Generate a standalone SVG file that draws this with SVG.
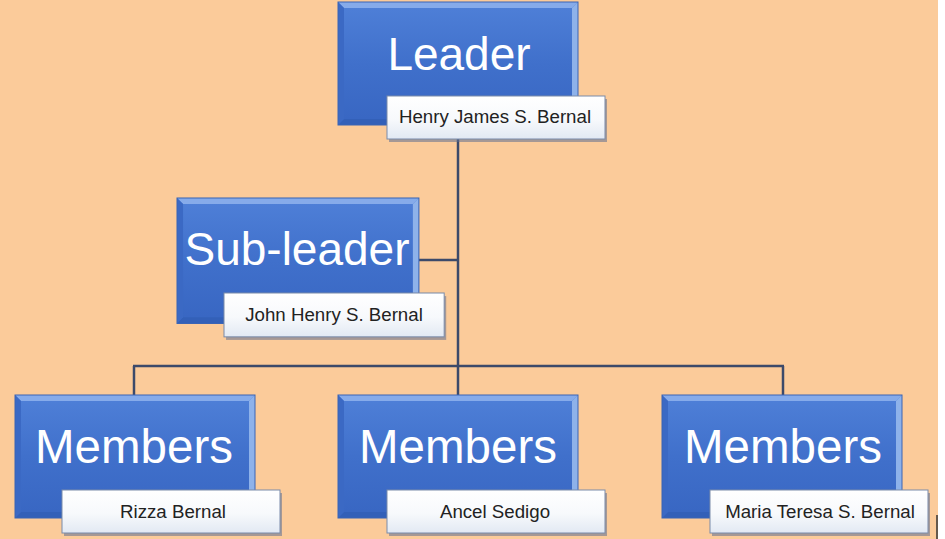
<svg xmlns="http://www.w3.org/2000/svg" xmlns:xlink="http://www.w3.org/1999/xlink" width="945" height="539" viewBox="0 0 945 539">
  <defs>
    <linearGradient id="boxGrad" x1="0" y1="0" x2="0" y2="1">
      <stop offset="0" stop-color="#4F80D8"/>
      <stop offset="0.5" stop-color="#4070CB"/>
      <stop offset="1" stop-color="#3866C2"/>
    </linearGradient>
    <linearGradient id="labelGrad" x1="0" y1="0" x2="0" y2="1">
      <stop offset="0" stop-color="#FFFFFF"/>
      <stop offset="0.55" stop-color="#F7F9FC"/>
      <stop offset="1" stop-color="#E2E9F3"/>
    </linearGradient>
    <g id="box">
      <rect x="0" y="0" width="240" height="123" fill="url(#boxGrad)"/>
      <polygon points="0,0 240,0 234,6 6,6" fill="#86ABEA"/>
      <polygon points="240,0 240,123 234,117 234,6" fill="#8EB2EA"/>
      <polygon points="0,123 240,123 234,117 6,117" fill="#3360B8"/>
      <polygon points="0,0 6,6 6,117 0,123" fill="#3B69C4"/>
      <rect x="0" y="0" width="240" height="123" fill="none" stroke="#3A64B4" stroke-width="1"/>
    </g>
    <g id="label">
      <rect x="2" y="3" width="218" height="43" fill="#5E6F92" opacity="0.55"/>
      <rect x="0" y="0" width="218" height="43" fill="url(#labelGrad)" stroke="#7A8BAA" stroke-width="1"/>
    </g>
  </defs>
  <style>
    .bg { fill: #FBCB9A; }
    .conn { stroke: #3C4A6A; stroke-width: 2.5; fill: none; }
    .title { font-family: "Liberation Sans", Arial, sans-serif; font-size: 46px; fill: #FFFFFF; text-anchor: middle; }
    .big { font-size: 47.5px; }
    .name { font-family: "Liberation Sans", Arial, sans-serif; font-size: 18.7px; fill: #222222; text-anchor: middle; }
  </style>

  <rect class="bg" x="0" y="0" width="938" height="539"/>
  <rect x="938" y="0" width="7" height="539" fill="#FFFFFF"/>
  <line x1="937" y1="515" x2="937" y2="539" stroke="#333333" stroke-width="1.5"/>

  <g id="connectors">
    <line class="conn" x1="458" y1="138" x2="458" y2="366"/>
    <line class="conn" x1="418" y1="260" x2="458" y2="260"/>
    <line class="conn" x1="133" y1="366" x2="784" y2="366"/>
    <line class="conn" x1="134" y1="366" x2="134" y2="395"/>
    <line class="conn" x1="458" y1="366" x2="458" y2="395"/>
    <line class="conn" x1="783" y1="366" x2="783" y2="395"/>
  </g>

  <g id="leader">
    <use xlink:href="#box" transform="translate(338,2)"/>
    <text class="title" x="459" y="70">Leader</text>
    <use xlink:href="#label" transform="translate(387,96)"/>
    <text class="name" x="495" y="123">Henry James S. Bernal</text>
  </g>

  <g id="subleader">
    <use xlink:href="#box" transform="translate(177,198) scale(1.008,1.02)"/>
    <text class="title" x="297" y="265" font-size="47">Sub-leader</text>
    <use xlink:href="#label" transform="translate(224,293) scale(1.01,1.02)"/>
    <text class="name" x="334" y="321">John Henry S. Bernal</text>
  </g>

  <g id="member1">
    <use xlink:href="#box" transform="translate(15,395)"/>
    <text class="title big" x="134" y="463">Members</text>
    <use xlink:href="#label" transform="translate(62,490)"/>
    <text class="name" x="173" y="518">Rizza Bernal</text>
  </g>

  <g id="member2">
    <use xlink:href="#box" transform="translate(338,395)"/>
    <text class="title big" x="458" y="463">Members</text>
    <use xlink:href="#label" transform="translate(387,490)"/>
    <text class="name" x="495" y="518">Ancel Sedigo</text>
  </g>

  <g id="member3">
    <use xlink:href="#box" transform="translate(662,395)"/>
    <text class="title big" x="783" y="463">Members</text>
    <use xlink:href="#label" transform="translate(710,490)"/>
    <text class="name" x="820" y="518">Maria Teresa S. Bernal</text>
  </g>
</svg>
